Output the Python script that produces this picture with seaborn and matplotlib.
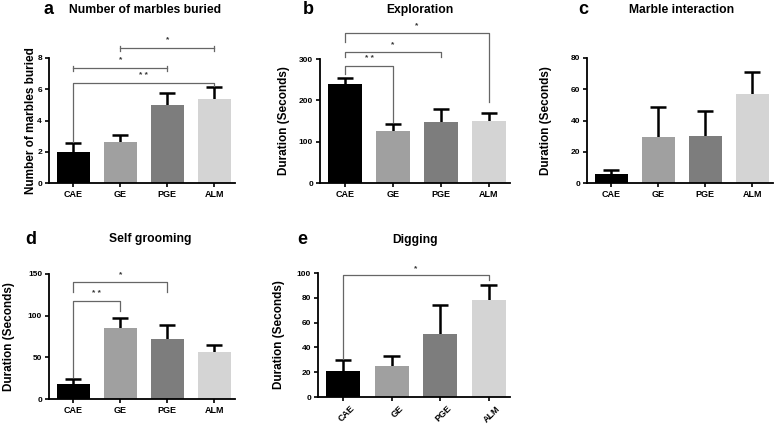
import numpy as np
import pandas as pd
import matplotlib
matplotlib.use("Agg")
import matplotlib.pyplot as plt
import matplotlib.transforms as mtransforms
import seaborn as sns

groups = ["CAE", "GE", "PGE", "ALM"]
colors = ["#000000", "#a0a0a0", "#7d7d7d", "#d4d4d4"]

marbles_mean = [1.98, 2.62, 5.0, 5.38]
marbles_sem = [0.58, 0.45, 0.76, 0.76]
explor_mean = [240, 126, 148, 150]
explor_sem = [14, 17, 31, 19]
interact_mean = [5.8, 29.4, 30, 57]
interact_sem = [2.5, 19.2, 16, 14]
groom_mean = [17.5, 85.6, 72.5, 57]
groom_sem = [6.5, 12, 16.5, 8]
dig_mean = [20.7, 25, 51, 78]
dig_sem = [8.9, 8, 23, 12.6]

# significance brackets: (from, to, level, left end, right end, label); None ends = short caps
sig_a = [(0, 3, 6.4, 2.62, 6.2, "* *"), (0, 2, 7.36, None, None, "*"), (1, 3, 8.64, None, None, "*")]
sig_b = [(0, 1, 283, 264, 148, "* *"), (0, 2, 317, 305, 305, "*"), (0, 3, 363, 341, 196, "*")]
sig_d = [(0, 1, 118, 26, 106, "* *"), (0, 2, 141, 128, 128, "*")]
sig_e = [(0, 3, 98, 31, 94, "*")]

plt.rcParams['font.family'] = ['Liberation Sans', 'DejaVu Sans']
plt.rcParams['font.weight'] = 'bold'

fig = plt.figure(figsize=(7.78, 4.25), dpi=100)
W, H = 778.0, 425.0


def panel(px, letter, letter_x, title, title_x, title_y, mean, sem, ylim, yticks,
          ylabel, label_x, sigs, rot=0):
    left, right, bottom, top = px
    ax = fig.add_axes([left / W, 1 - bottom / H, (right - left) / W, (bottom - top) / H])
    df = pd.DataFrame({"group": groups, "value": mean})
    sns.barplot(data=df, x="group", y="value", hue="group", palette=colors,
                legend=False, errorbar=None, width=0.7, ax=ax)
    x = np.arange(len(groups))
    tops = np.array(mean) + np.array(sem)
    ax.vlines(x, mean, tops, color="black", lw=1.8, zorder=1)
    ax.hlines(tops, x - 0.17, x + 0.17, color="black", lw=1.8, zorder=1)
    for p in ax.patches:
        p.set_zorder(2)
    ax.set_xlim(-0.52, 3.44)
    ax.set_ylim(*ylim)
    ax.set_yticks(yticks)
    ax.set_xlabel("")
    ax.set_ylabel(ylabel, fontsize=8.5, fontweight="bold")
    ax.yaxis.set_label_coords(label_x, 0.5)
    sns.despine(ax=ax)
    for s in ["left", "bottom"]:
        ax.spines[s].set_linewidth(1.3)
    ax.tick_params(width=1.2, length=3, pad=2)
    ax.tick_params(axis="x", labelsize=6.5)
    ax.tick_params(axis="y", labelsize=6)
    for t in ax.get_xticklabels() + ax.get_yticklabels():
        t.set_fontweight("bold")
    if rot:
        shift = mtransforms.ScaledTranslation(5 / 72, 0, fig.dpi_scale_trans)
        for t in ax.get_xticklabels():
            t.set_rotation(rot)
            t.set_ha("right")
            t.set_rotation_mode("anchor")
            t.set_transform(t.get_transform() + shift)
    span = ylim[1] - ylim[0]
    for i, j, lvl, yi, yj, lab in sigs:
        if yi is None:
            ax.plot([i, j], [lvl, lvl], color="#666666", lw=0.9, clip_on=False)
            for e in (i, j):
                ax.plot([e, e], [lvl - span * 0.02, lvl + span * 0.02], color="#666666",
                        lw=0.9, clip_on=False)
            dy = span * 0.035
        else:
            ax.plot([i, i, j, j], [yi, lvl, lvl, yj], color="#666666", lw=0.9, clip_on=False)
            dy = span * 0.03
        ax.text((i + j) / 2, lvl + dy, lab, ha="center", va="bottom",
                fontsize=6, color="#333333")
    fig.text(letter_x / W, 1 - title_y / H, letter, fontsize=13, fontweight="bold",
             va="center", ha="left")
    fig.text(title_x / W, 1 - title_y / H, title, fontsize=8.7,
             fontweight="bold", ha="center", va="center")
    return ax


panel((49, 235, 183, 58), "a", 44, "Number of marbles buried", 145, 10,
      marbles_mean, marbles_sem, (0, 8), [0, 2, 4, 6, 8],
      "Number of marbles buried", -0.065, sig_a)
panel((320, 510, 183, 59), "b", 303, "Exploration", 420, 10,
      explor_mean, explor_sem, (0, 300), [0, 100, 200, 300],
      "Duration (Seconds)", -0.158, sig_b)
panel((587, 773, 183, 58), "c", 578, "Marble interaction", 682, 10,
      interact_mean, interact_sem, (0, 80), [0, 20, 40, 60, 80],
      "Duration (Seconds)", -0.188, [])
panel((49, 235, 399, 274), "d", 25, "Self grooming", 150, 239,
      groom_mean, groom_sem, (0, 150), [0, 50, 100, 150],
      "Duration (Seconds)", -0.183, sig_d)
panel((318, 510, 397, 273), "e", 297, "Digging", 415, 240,
      dig_mean, dig_sem, (0, 100), [0, 20, 40, 60, 80, 100],
      "Duration (Seconds)", -0.172, sig_e, rot=45)

fig.savefig("out.png", dpi=100)
